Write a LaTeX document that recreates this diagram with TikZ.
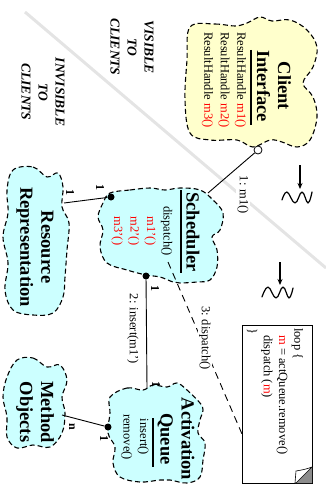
\documentclass[tikz,border=0pt]{standalone}
\usepackage{fontspec}
\setmainfont{Liberation Serif}
\usetikzlibrary{arrows.meta}
\definecolor{clientyellow}{HTML}{FFFFCC}
\definecolor{objcyan}{HTML}{CCFFFF}
\definecolor{partition}{HTML}{E4E4E4}
\definecolor{foldgray}{HTML}{8C8C8C}
\begin{document}
\begin{tikzpicture}[x=1pt,y=-1pt,
  blob/.style={draw, dash pattern=on 5pt off 3pt, line width=1.1pt},
  rot/.style={rotate=-90, inner sep=0pt},
  titletext/.style={rot, align=center, font=\bfseries\fontsize{18.5}{21}\selectfont},
  bodytext/.style={rot, font=\fontsize{12.5}{16.5}\selectfont},
  sidetext/.style={rot, align=center, font=\bfseries\itshape\fontsize{13.5}{17}\selectfont},
  mult/.style={rot, font=\bfseries\fontsize{12}{14}\selectfont},
  msglabel/.style={rot, fill=white, inner sep=1.5pt, font=\fontsize{12.5}{15}\selectfont},
  dot/.style={circle, fill=black, inner sep=0pt, minimum size=7pt},
  opendot/.style={circle, draw=black, fill=white, line width=0.8pt, inner sep=0pt, minimum size=8pt},
  assoc/.style={line width=0.9pt},
  rule/.style={line width=1.3pt},
  squiggle/.style={line width=1.2pt, line join=round, line cap=round}
]
\useasboundingbox (0,0) rectangle (326,487);

% partition between the client side and the implementation side
\coordinate (partA) at (25,12);
\coordinate (partB) at (326,268);
\draw[partition, line width=3pt] (partA) -- (partB);

\node[sidetext] (vis) at (132,47) {VISIBLE\\TO\\CLIENTS};
\node[sidetext] (invis) at (43,92) {INVISIBLE\\TO\\CLIENTS};

% ---- Client Interface ----
\filldraw[blob, fill=clientyellow] plot[smooth cycle, tension=0.6] coordinates {
  (190,27) (215,24) (235,26) (247,23) (260,17) (272,21) (290,20) (307,30)
  (317,47) (313,67) (303,83) (313,97) (317,117) (310,140) (297,147) (282,142)
  (270,140) (253,147) (237,140) (210,140) (190,133) (185,100) (187,60)};
\node[titletext] (cititle) at (274,86) {Client\\Interface};
\draw[rule] (251,50) -- (251,125);
\node[bodytext, anchor=west, align=left] (cimeth) at (224,32)
  {ResultHandle \textcolor{red}{m1()}\\ResultHandle \textcolor{red}{m2()}\\ResultHandle \textcolor{red}{m3()}};

% ---- Scheduler ----
\filldraw[blob, fill=objcyan] plot[smooth cycle, tension=0.6] coordinates {
  (110,193) (130,190) (150,188) (165,190) (180,188) (200,190) (213,200) (223,213)
  (220,230) (212,237) (217,250) (217,267) (210,280) (197,282) (180,283) (173,282)
  (160,277) (146,275) (127,270) (107,263) (100,247) (103,230) (98,217) (103,203)};
\node[titletext] (schtitle) at (193,232) {Scheduler};
\draw[rule] (181,190) -- (181,273);
\node[bodytext, align=center] (schmeth) at (142,231)
  {dispatch()\\\textcolor{red}{m1'()}\\\textcolor{red}{m2'()}\\\textcolor{red}{m3'()}};

% ---- Resource Representation ----
\filldraw[blob, fill=objcyan] plot[smooth cycle, tension=0.6] coordinates {
  (13,170) (33,167) (47,177) (58,173) (63,187) (62,207) (69,223) (67,250)
  (65,277) (63,297) (53,313) (33,315) (13,310) (5,290) (8,263) (3,237)
  (8,213) (7,190)};
\node[titletext] (restitle) at (35,247) {Resource\\Representation};

% ---- Activation Queue ----
\filldraw[blob, fill=objcyan] plot[smooth cycle, tension=0.6] coordinates {
  (110,397) (127,388) (143,390) (153,385) (167,387) (177,383) (187,390) (200,403)
  (203,410) (200,420) (198,433) (205,443) (203,460) (200,477) (187,483) (170,480)
  (160,480) (140,482) (120,477) (113,463) (115,447) (108,433) (110,413)};
\node[titletext] (aqtitle) at (176,439) {Activation\\Queue};
\draw[rule] (153,418) -- (153,467);
\node[bodytext, align=center] (aqmeth) at (135,437) {insert()\\remove()};

% ---- Method Objects ----
\filldraw[blob, fill=objcyan] plot[smooth cycle, tension=0.6] coordinates {
  (17,360) (33,358) (47,367) (60,365) (67,380) (62,397) (65,413) (62,433)
  (50,447) (33,445) (17,448) (7,437) (7,417) (3,397) (7,377)};
\node[titletext] (motitle) at (35,412) {Method\\Objects};

% ---- note attached to dispatch() ----
\coordinate (noteA) at (242,325);
\coordinate (noteB) at (312,483);
\filldraw[fill=white, draw=black, line width=0.8pt] (noteA) rectangle (noteB);
\fill[foldgray] (296,483) -- (312,467) -- (312,483) -- cycle;
\draw[line width=0.6pt, fill=white] (295,483) -- (296,471) .. controls (302,470) and (307,469) .. (312,467) -- (296,483) -- cycle;
\node[bodytext, anchor=west, align=left, font=\fontsize{12.5}{15.3}\selectfont] (notetext) at (275,328)
  {loop \{\\\hspace*{7pt}\textcolor{red}{m} = actQueue.remove()\\\hspace*{7pt}dispatch (\textcolor{red}{m})\\\}};

% ---- connectors ----
\node[opendot] (ciport) at (258,150) {};
\coordinate (schtop) at (208,193);
\draw[assoc] (ciport) -- (schtop);
\node[msglabel] (lbl1) at (243,195) {1: m1()};

\node[dot] (schres) at (111,197) {};
\coordinate (resend) at (64,203);
\draw[assoc] (schres) -- (resend);
\node[mult] (m1a) at (100,187) {1};
\node[mult] (m1b) at (70,192) {1};

\node[dot] (schaq) at (146,276) {};
\coordinate (aqtop) at (147,388);
\draw[assoc] (schaq) -- (aqtop);
\node[mult] (m2a) at (155,288) {1};
\node[mult] (m2b) at (156,384) {1};
\node[msglabel, fill=none] (lbl2) at (133,329) {2: insert(m1')};

\node[dot] (aqmo) at (108,427) {};
\coordinate (moend) at (62,415);
\draw[assoc] (aqmo) -- (moend);
\node[mult] (m3a) at (104,438) {1};
\node[mult] (m3b) at (72,427) {n};

\coordinate (dispstart) at (168,262);
\coordinate (noteedge) at (242,434);
\draw[assoc, dash pattern=on 7pt off 5pt] (dispstart) -- (noteedge);
\node[msglabel] (lbl3) at (205,338) {3: dispatch()};

% ---- external events ----
\coordinate (ev1a) at (300,165);
\coordinate (ev1b) at (300,189);
\draw[line width=1.2pt, -{Stealth[length=6pt,width=5pt]}] (ev1a) -- (ev1b);
\draw[squiggle] plot[smooth, tension=0.7] coordinates {(282,200) (287,192) (295,203) (302,192) (308,203) (312,192)};

\coordinate (ev2a) at (280,262);
\coordinate (ev2b) at (280,285);
\draw[line width=1.2pt, -{Stealth[length=6pt,width=5pt]}] (ev2a) -- (ev2b);
\draw[squiggle] plot[smooth, tension=0.7] coordinates {(262,297) (268,287) (276,298) (283,287) (289,298) (293,288)};
\end{tikzpicture}
\end{document}
